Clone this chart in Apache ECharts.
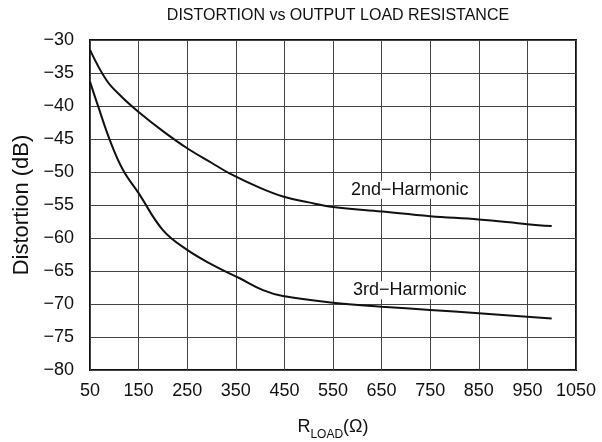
<!DOCTYPE html>
<html>
<head>
<meta charset="utf-8">
<script src="https://cdn.jsdelivr.net/npm/echarts@6/dist/echarts.min.js"></script>
<style>
  html, body { margin: 0; padding: 0; background: #fff; }
  #chart { width: 602px; height: 442px; }
</style>
</head>
<body>
<div id="chart"></div>
<script>
// Load resistance (ohms) vs distortion (dB)
const harmonic2 = [
  [50, -31.5], [84, -36.1], [115, -38.6], [150, -40.9], [200, -43.8], [250, -46.4],
  [300, -48.6], [337, -50.2], [400, -52.4], [447, -53.7], [500, -54.6], [550, -55.3],
  [650, -56.0], [750, -56.7], [850, -57.2], [950, -57.9], [1000, -58.2]
];
const harmonic3 = [
  [50, -36.3], [67, -40.1], [91, -45.2], [118, -49.7], [150, -53.2], [200, -58.8],
  [250, -61.8], [303, -64.1], [358, -66.1], [406, -67.9], [447, -68.8],
  [550, -69.8], [650, -70.4], [750, -70.9], [850, -71.4], [1000, -72.2]
];
const seriesNames = ['2nd\u2212Harmonic', '3rd\u2212Harmonic'];
const labelSpots = [[708, -52.7], [708, -67.9]];

const FONT = '"Liberation Sans", Arial, sans-serif';
const minus = v => String(v).replace('-', '\u2212');

const chart = echarts.init(document.getElementById('chart'), null, { renderer: 'canvas' });

function curve(name, data, spot) {
  return {
    name: name,
    type: 'line',
    data: data,
    smooth: 0.4,
    symbol: 'none',
    lineStyle: { color: '#111', width: 2 },
    z: 3,
    markPoint: {
      symbol: 'rect',
      symbolSize: 0,
      silent: true,
      data: [{ coord: spot, value: name }],
      label: {
        show: true,
        position: 'inside',
        align: 'center',
        verticalAlign: 'middle',
        formatter: name,
        color: '#111',
        fontFamily: FONT,
        fontSize: 18,
        backgroundColor: '#fff',
        padding: [0, 2]
      }
    }
  };
}

chart.setOption({
  animation: false,
  backgroundColor: '#fff',
  title: {
    text: 'DISTORTION vs OUTPUT LOAD RESISTANCE',
    left: 333,
    textAlign: 'center',
    top: 3,
    textStyle: { fontFamily: FONT, fontSize: 16, fontWeight: 'normal', color: '#111' }
  },
  grid: {
    left: 90, right: 26, top: 40, bottom: 72,
    outerBoundsMode: 'none',
    containLabel: false,
    show: true, borderColor: '#111', borderWidth: 2, backgroundColor: 'transparent'
  },
  xAxis: {
    type: 'value',
    min: 50, max: 1050, interval: 100,
    axisLine: { show: false },
    axisTick: { show: false },
    splitLine: { show: true, lineStyle: { color: '#444', width: 1 } },
    axisLabel: { color: '#111', fontFamily: FONT, fontSize: 18, margin: 12, formatter: v => String(v) },
    name: '{r|R}{s|LOAD}{r|(\u03A9)}',
    nameLocation: 'middle',
    nameGap: 48,
    nameTextStyle: {
      rich: {
        r: { fontFamily: FONT, fontSize: 18, color: '#111', verticalAlign: 'bottom' },
        s: { fontFamily: FONT, fontSize: 12, color: '#111', verticalAlign: 'bottom', padding: [0, 0, -5, 0] }
      }
    }
  },
  yAxis: {
    type: 'value',
    min: -80, max: -30, interval: 5,
    axisLine: { show: false },
    axisTick: { show: false },
    splitLine: { show: true, lineStyle: { color: '#444', width: 1 } },
    axisLabel: { color: '#111', fontFamily: FONT, fontSize: 18, margin: 16, formatter: minus },
    name: 'Distortion (dB)',
    nameLocation: 'middle',
    nameGap: 52,
    nameTextStyle: { fontFamily: FONT, fontSize: 22, color: '#111' }
  },
  series: [
    curve(seriesNames[0], harmonic2, labelSpots[0]),
    curve(seriesNames[1], harmonic3, labelSpots[1])
  ]
});
</script>
</body>
</html>
